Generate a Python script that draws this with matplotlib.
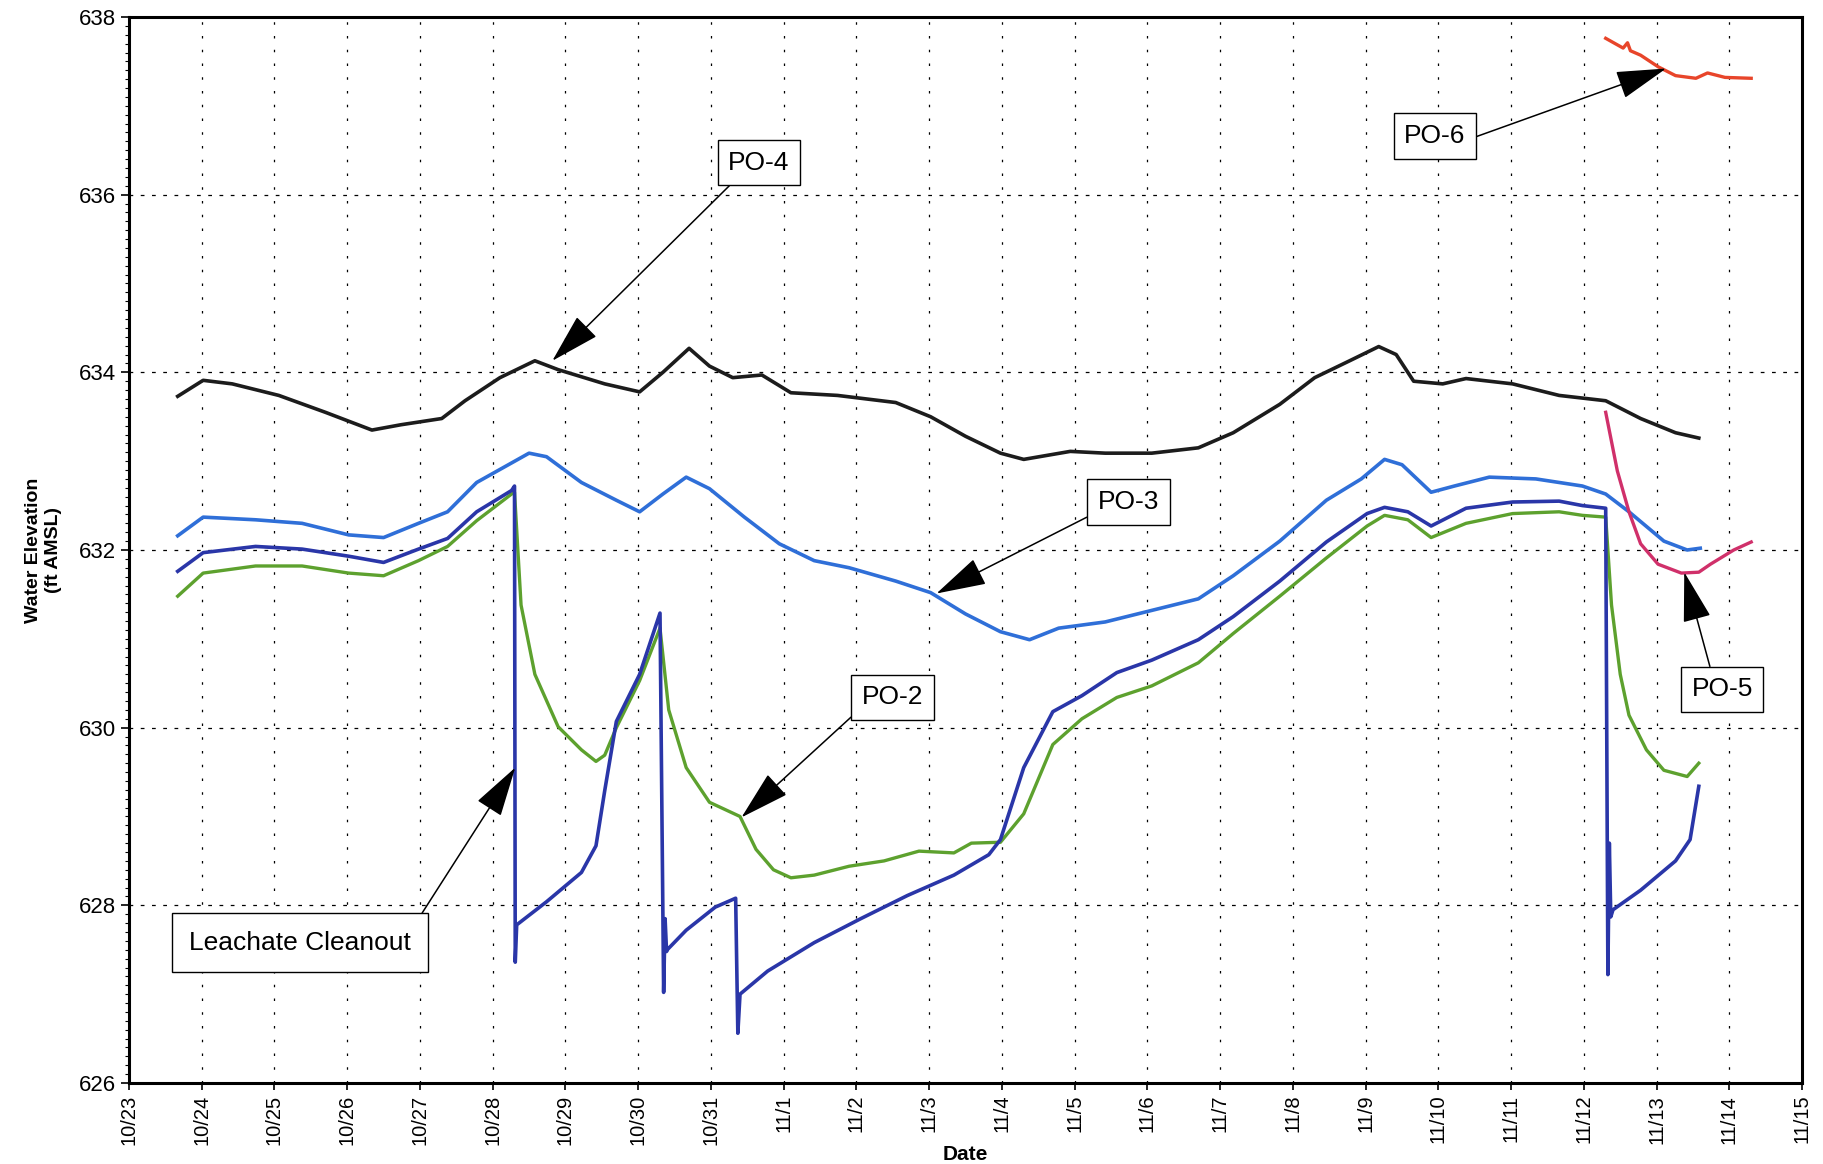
import matplotlib
matplotlib.use('Agg')
import matplotlib.pyplot as plt
from matplotlib.ticker import MultipleLocator

plt.rcParams['font.family'] = ['Liberation Sans', 'DejaVu Sans']

# day offsets from 10/23
date_labels = ['10/23', '10/24', '10/25', '10/26', '10/27', '10/28', '10/29', '10/30',
               '10/31', '11/1', '11/2', '11/3', '11/4', '11/5', '11/6', '11/7', '11/8',
               '11/9', '11/10', '11/11', '11/12', '11/13', '11/14', '11/15']

po4_day = [0.67, 1.02, 1.42, 2.06, 2.70, 3.34, 3.74, 4.30, 4.62, 5.10, 5.58, 5.90, 6.54,
           7.02, 7.34, 7.70, 7.98, 8.30, 8.70, 9.10, 9.74, 10.54, 11.02, 11.50, 11.98,
           12.30, 12.94, 13.42, 14.06, 14.70, 15.18, 15.82, 16.30, 16.78, 17.18, 17.42,
           17.66, 18.06, 18.38, 19.02, 19.66, 20.30, 20.78, 21.26, 21.58]
po4_elev = [633.73, 633.91, 633.87, 633.74, 633.55, 633.35, 633.41, 633.48, 633.68, 633.94,
            634.13, 634.03, 633.87, 633.78, 634.00, 634.27, 634.07, 633.94, 633.97, 633.77,
            633.74, 633.66, 633.50, 633.28, 633.09, 633.02, 633.11, 633.09, 633.09, 633.15,
            633.32, 633.64, 633.94, 634.13, 634.29, 634.20, 633.90, 633.87, 633.93, 633.87,
            633.74, 633.68, 633.48, 633.32, 633.26]

po3_day = [0.67, 1.02, 1.74, 2.38, 3.02, 3.50, 3.98, 4.38, 4.78, 5.26, 5.50, 5.74, 6.22,
           6.70, 7.02, 7.34, 7.66, 7.98, 8.46, 8.94, 9.42, 9.90, 10.54, 11.02, 11.50,
           11.98, 12.38, 12.78, 13.42, 14.06, 14.70, 15.18, 15.82, 16.46, 16.94, 17.26,
           17.50, 17.90, 18.22, 18.70, 19.34, 19.98, 20.30, 20.62, 21.10, 21.42, 21.60]
po3_elev = [632.16, 632.37, 632.34, 632.30, 632.17, 632.14, 632.30, 632.43, 632.76, 632.98,
            633.09, 633.05, 632.76, 632.56, 632.43, 632.63, 632.82, 632.69, 632.37, 632.07,
            631.88, 631.80, 631.65, 631.52, 631.28, 631.08, 630.99, 631.12, 631.19, 631.32,
            631.45, 631.71, 632.10, 632.56, 632.80, 633.02, 632.96, 632.65, 632.72, 632.82,
            632.80, 632.72, 632.63, 632.43, 632.10, 632.00, 632.02]

po1_day = [0.67, 1.02, 1.74, 2.38, 3.02, 3.50, 3.98, 4.38, 4.78, 5.26, 5.30, 5.31, 5.33,
           5.74, 6.22, 6.42, 6.54, 6.70, 7.02, 7.30, 7.35, 7.37, 7.39, 7.40, 7.66, 8.06,
           8.34, 8.37, 8.40, 8.78, 9.42, 10.06, 10.70, 11.34, 11.82, 11.98, 12.30, 12.70,
           13.10, 13.58, 14.06, 14.70, 15.18, 15.82, 16.46, 17.02, 17.26, 17.58, 17.90,
           18.38, 19.02, 19.66, 19.98, 20.30, 20.33, 20.35, 20.37, 20.40, 20.78, 21.26,
           21.46, 21.58]
po1_elev = [631.76, 631.97, 632.04, 632.01, 631.93, 631.86, 632.01, 632.13, 632.43, 632.67,
            632.72, 627.36, 627.78, 628.04, 628.37, 628.67, 629.29, 630.07, 630.60, 631.29,
            627.02, 627.85, 627.48, 627.50, 627.72, 627.98, 628.08, 626.56, 627.00, 627.26,
            627.58, 627.85, 628.11, 628.34, 628.57, 628.74, 629.55, 630.18, 630.36, 630.62,
            630.76, 630.99, 631.25, 631.65, 632.09, 632.41, 632.48, 632.43, 632.27, 632.47,
            632.54, 632.55, 632.50, 632.47, 627.22, 628.70, 627.87, 627.95, 628.17, 628.50,
            628.74, 629.34]

po2_day = [0.67, 1.02, 1.74, 2.38, 3.02, 3.50, 3.98, 4.38, 4.78, 5.26, 5.30, 5.39, 5.58,
           5.90, 6.22, 6.42, 6.54, 6.70, 7.02, 7.30, 7.42, 7.66, 7.98, 8.40, 8.62, 8.86,
           9.10, 9.42, 9.90, 10.38, 10.86, 11.34, 11.58, 11.98, 12.30, 12.70, 13.10, 13.58,
           14.06, 14.70, 15.18, 15.82, 16.46, 17.02, 17.26, 17.58, 17.90, 18.38, 19.02,
           19.66, 19.98, 20.30, 20.38, 20.50, 20.62, 20.86, 21.10, 21.42, 21.58]
po2_elev = [631.48, 631.74, 631.82, 631.82, 631.74, 631.71, 631.88, 632.04, 632.33, 632.63,
            632.65, 631.38, 630.60, 630.01, 629.75, 629.62, 629.69, 630.00, 630.53, 631.12,
            630.20, 629.55, 629.16, 629.00, 628.63, 628.40, 628.31, 628.34, 628.44, 628.50,
            628.61, 628.59, 628.70, 628.71, 629.03, 629.81, 630.10, 630.34, 630.47, 630.73,
            631.06, 631.48, 631.91, 632.27, 632.39, 632.34, 632.14, 632.30, 632.41, 632.43,
            632.39, 632.37, 631.38, 630.60, 630.14, 629.75, 629.52, 629.45, 629.60]

po5_day = [20.30, 20.46, 20.62, 20.78, 21.02, 21.34, 21.58, 21.74, 22.06, 22.30]
po5_elev = [633.55, 632.89, 632.43, 632.07, 631.84, 631.74, 631.75, 631.84, 632.00, 632.09]

po6_day = [20.30, 20.54, 20.60, 20.64, 20.78, 21.02, 21.26, 21.54, 21.70, 21.94, 22.30]
po6_elev = [637.76, 637.65, 637.71, 637.62, 637.57, 637.44, 637.34, 637.31, 637.37, 637.32, 637.31]

fig = plt.figure(figsize=(18.24, 11.64), dpi=100)
ax = fig.add_axes([0.0707, 0.0696, 0.9173, 0.9158])

ax.plot(po4_day, po4_elev, color='#1c1c1c', lw=2.6)
ax.plot(po3_day, po3_elev, color='#2f6fd8', lw=2.6)
ax.plot(po2_day, po2_elev, color='#5da12e', lw=2.4)
ax.plot(po1_day, po1_elev, color='#2a36a8', lw=2.6)
ax.plot(po5_day, po5_elev, color='#d0306a', lw=2.4)
ax.plot(po6_day, po6_elev, color='#e8452a', lw=2.4)

ax.set_xlim(0, 23)
ax.set_ylim(626, 638)
ax.set_xticks(range(len(date_labels)))
ax.set_xticklabels(date_labels, rotation=90, fontsize=14.5)
ax.yaxis.set_major_locator(MultipleLocator(2))
ax.yaxis.set_minor_locator(MultipleLocator(0.1))
ax.tick_params(axis='y', which='major', labelsize=16, length=6, width=1.2)
ax.tick_params(axis='y', which='minor', length=3, width=0.8)
ax.tick_params(axis='x', length=5, width=1.2)

ax.grid(axis='x', color='black', lw=0.9, linestyle=(0, (2, 9)))
ax.grid(axis='y', which='major', color='black', lw=0.9, linestyle=(0, (3, 6)))
for sp in ax.spines.values():
    sp.set_linewidth(2.2)

ax.set_ylabel('Water Elevation\n(ft AMSL)', fontsize=14, fontweight='bold', labelpad=12)
ax.set_xlabel('Date', fontsize=15, fontweight='bold', labelpad=0)

arrow = '-|>,head_length=1.6,head_width=0.45'


def label(text, xy, xytext, relpos, size=19, pad=0.4):
    ax.annotate(text, xy=xy, xytext=xytext, fontsize=size, ha='center', va='center',
                bbox=dict(boxstyle=f'square,pad={pad}', fc='white', ec='black', lw=1),
                arrowprops=dict(arrowstyle=arrow, color='black', lw=1.1,
                                mutation_scale=20, relpos=relpos, shrinkA=0, shrinkB=0))


label('PO-4', (5.82, 634.13), (8.66, 636.36), (0.2, 0.0))
label('PO-3', (11.10, 631.51), (13.74, 632.54), (0.0, 0.1))
label('PO-2', (8.42, 628.99), (10.50, 630.34), (0.0, 0.1))
label('Leachate Cleanout', (5.31, 629.55), (2.35, 627.58), (1.0, 1.0), pad=0.65)
label('PO-6', (21.13, 637.42), (17.95, 636.66), (1.15, 0.45))
label('PO-5', (21.38, 631.75), (21.90, 630.43), (0.35, 1.0))

fig.savefig('out.png', dpi=100)
